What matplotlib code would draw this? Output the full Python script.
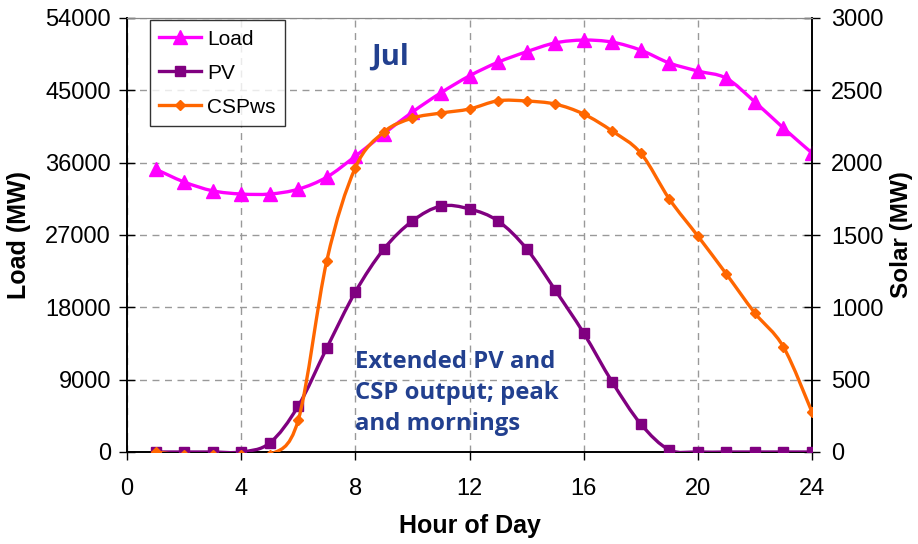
import matplotlib
matplotlib.use("Agg")
import matplotlib.pyplot as plt
from matplotlib.path import Path
from matplotlib.patches import PathPatch
from matplotlib.lines import Line2D
import numpy as np

plt.rcParams['font.family'] = ['Liberation Sans', 'DejaVu Sans']

hours = list(range(1, 25))
load = [35200, 33600, 32500, 32100, 32100, 32700, 34200, 36800, 39600, 42300,
        44700, 46800, 48500, 49800, 50900, 51250, 51000, 50000, 48400, 47400,
        46500, 43550, 40300, 37200]
pv = [0, 0, 0, 0, 62, 318, 719, 1106, 1403, 1597,
      1700, 1680, 1597, 1405, 1120, 822, 484, 194, 15, 0,
      0, 0, 0, 0]
csp = [0, -20, -20, -20, -20, 221, 1322, 1965, 2212, 2308,
       2343, 2371, 2428, 2426, 2405, 2336, 2218, 2066, 1749, 1493,
       1230, 960, 726, 276]

C_LOAD = '#FF00FF'
C_PV = '#800080'
C_CSP = '#FF6600'
C_TEXT = '#22408F'


def smooth_path(x, y):
    # Excel-style smoothed line: cubic Bezier through every point
    p = np.column_stack([x, y]).astype(float)
    verts = [p[0]]
    codes = [Path.MOVETO]
    n = len(p)
    for i in range(n - 1):
        p0 = p[i - 1] if i > 0 else p[i]
        p3 = p[i + 2] if i + 2 < n else p[i + 1]
        c1 = p[i] + (p[i + 1] - p0) / 6.0
        c2 = p[i + 1] - (p3 - p[i]) / 6.0
        verts += [c1, c2, p[i + 1]]
        codes += [Path.CURVE4] * 3
    return Path(verts, codes)


fig = plt.figure(figsize=(9.18, 5.44), dpi=100)
ax = fig.add_axes([127 / 918, 92 / 544, 685 / 918, 434 / 544])
ax2 = ax.twinx()

lw = 2.4
ax.add_patch(PathPatch(smooth_path(hours, load), fc='none', ec=C_LOAD, lw=lw, zorder=3))
ax.plot(hours, load, ls='none', marker='^', ms=9.5, color=C_LOAD, zorder=4)

ax2.add_patch(PathPatch(smooth_path(hours, pv), fc='none', ec=C_PV, lw=lw, zorder=3))
ax2.plot(hours, pv, ls='none', marker='s', ms=6.5, color=C_PV, zorder=4)
ax2.add_patch(PathPatch(smooth_path(hours, csp), fc='none', ec=C_CSP, lw=lw, zorder=5))
ax2.plot(hours, csp, ls='none', marker='D', ms=5.5, color=C_CSP, zorder=6)

ax.set_xlim(0, 24)
ax.set_ylim(0, 54000)
ax2.set_ylim(0, 3000)
ax.set_xticks(range(0, 25, 4))
ax.set_yticks(range(0, 54001, 9000))
ax2.set_yticks(range(0, 3001, 500))

ax.grid(True, color='#999999', ls=(0, (5, 4)), lw=1)
ax.set_axisbelow(True)

for a in (ax, ax2):
    a.spines['top'].set_color('#888888')
    a.spines['left'].set_linewidth(1.2)
    a.spines['right'].set_linewidth(1.2)
    a.spines['bottom'].set_linewidth(1.2)

ax.tick_params(axis='y', direction='inout', length=11, width=1, labelsize=17, pad=6)
ax.tick_params(axis='x', direction='out', length=6, width=1, labelsize=17, pad=13)
ax2.tick_params(axis='y', direction='inout', length=11, width=1, labelsize=17, pad=8)

ax.set_xlabel('Hour of Day', fontsize=18, fontweight='bold', labelpad=10)
ax.set_ylabel('Load (MW)', fontsize=18, fontweight='bold', labelpad=10)
ax2.set_ylabel('Solar (MW)', fontsize=17.5, fontweight='bold', labelpad=5)

handles = [
    Line2D([], [], color=C_LOAD, lw=lw, marker='^', ms=9.5),
    Line2D([], [], color=C_PV, lw=lw, marker='s', ms=6.5),
    Line2D([], [], color=C_CSP, lw=lw, marker='D', ms=5.5),
]
leg = ax2.legend(handles, ['Load', 'PV', 'CSPws'], loc='upper left',
                 bbox_to_anchor=(0.033, 0.995), fontsize=15, frameon=True,
                 fancybox=False, edgecolor='black', handlelength=2.0,
                 handletextpad=0.3, labelspacing=0.72, borderpad=0.45,
                 borderaxespad=0)
leg.get_frame().set_linewidth(1)
leg.set_zorder(10)

ax2.text((390 - 127) / 685, (452 - 57) / 434, 'Jul', transform=ax2.transAxes,
         family=['Open Sans', 'DejaVu Sans'], fontweight='bold', fontsize=21,
         color=C_TEXT, ha='center', va='center', zorder=7)
ax2.text((355 - 127) / 685, (452 - 350) / 434,
         'Extended PV and\nCSP output; peak\nand mornings',
         transform=ax2.transAxes, family=['Open Sans', 'DejaVu Sans'],
         fontweight='bold', fontsize=17.2, color=C_TEXT, ha='left', va='top',
         linespacing=1.38, zorder=7)

fig.savefig('out.png', dpi=100)
